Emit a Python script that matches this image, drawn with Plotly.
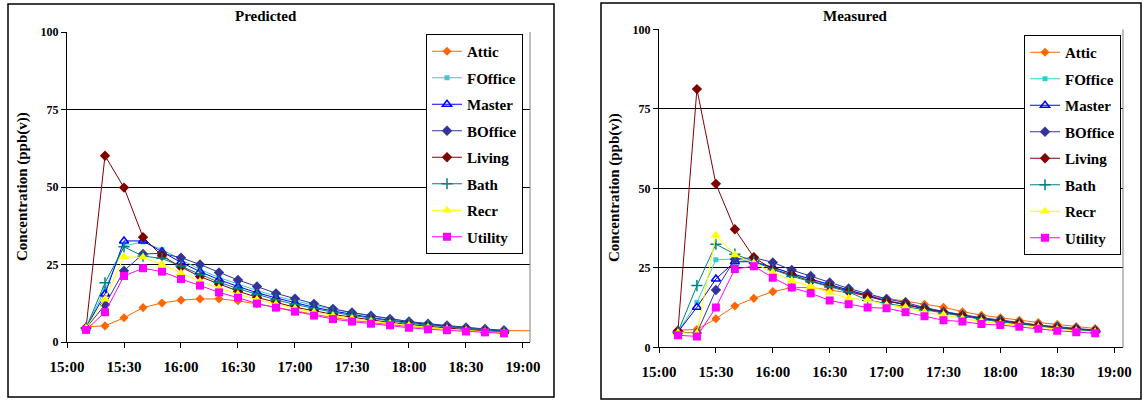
import plotly.graph_objects as go

# ---------------- data ----------------
times = ["15:10", "15:20", "15:30", "15:40", "15:50", "16:00", "16:10", "16:20",
         "16:30", "16:40", "16:50", "17:00", "17:10", "17:20", "17:30", "17:40",
         "17:50", "18:00", "18:10", "18:20", "18:30", "18:40", "18:50", "19:10"]

series_names = ["Attic", "FOffice", "Master", "BOffice", "Living", "Bath", "Recr", "Utility"]

pred_attic = [4.9, 5.2, 7.8, 11.1, 12.6, 13.5, 13.9, 13.9, 13.3, 12.3, 11.2, 10.0, 8.9, 7.9, 7.0, 6.2, 5.6, 5.0, 4.6, 4.2, 3.9, 3.7, 3.6, 3.6]
pred_foffice = [4.5, 17.0, 31.0, 32.3, 29.8, 26.5, 23.4, 20.8, 18.6, 16.6, 14.8, 13.2, 11.8, 10.5, 9.4, 8.3, 7.4, 6.6, 5.9, 5.2, 4.6, 4.1, 3.6]
pred_master = [4.5, 15.5, 32.6, 32.6, 29.1, 25.7, 22.7, 20.1, 17.9, 15.9, 14.2, 12.6, 11.2, 10.0, 8.9, 7.9, 7.0, 6.3, 5.6, 5.0, 4.4, 3.9, 3.5]
pred_boffice = [4.5, 12.0, 23.0, 28.4, 28.6, 27.2, 25.0, 22.4, 20.0, 17.9, 15.7, 14.0, 12.3, 10.7, 9.5, 8.5, 7.4, 6.6, 5.9, 5.3, 4.7, 4.2, 3.8]
pred_living = [4.4, 60.1, 49.8, 33.8, 27.8, 24.2, 21.1, 18.7, 16.4, 14.4, 12.9, 11.2, 10.1, 8.9, 8.0, 7.1, 6.3, 5.6, 5.0, 4.5, 4.0, 3.6, 3.2]
pred_bath = [4.5, 19.1, 30.7, 27.7, 27.0, 24.5, 21.8, 19.3, 17.2, 15.3, 13.6, 12.1, 10.8, 9.6, 8.6, 7.6, 6.8, 6.0, 5.4, 4.8, 4.2, 3.8, 3.4]
pred_recr = [4.5, 13.8, 27.5, 27.3, 25.0, 22.2, 19.5, 17.4, 15.4, 13.7, 12.2, 10.8, 9.6, 8.5, 7.6, 6.7, 6.0, 5.3, 4.7, 4.2, 3.7, 3.3, 3.0]
pred_utility = [3.9, 9.6, 21.3, 23.8, 22.7, 20.3, 18.2, 16.0, 14.3, 12.4, 11.1, 9.8, 8.5, 7.4, 6.6, 5.9, 5.4, 4.6, 4.1, 3.8, 3.4, 3.1, 2.8]

meas_attic = [5.4, 5.6, 9.0, 13.0, 15.4, 17.5, 18.8, 18.8, 18.0, 17.2, 16.3, 15.4, 14.5, 13.5, 12.6, 11.2, 10.1, 9.3, 8.5, 7.8, 7.2, 6.5, 5.9]
meas_foffice = [4.8, 14.1, 27.5, 27.8, 26.9, 25.0, 23.0, 21.2, 19.6, 18.0, 16.4, 14.8, 13.6, 12.4, 11.2, 10.2, 9.2, 8.4, 7.6, 6.8, 6.2, 5.7, 5.2]
meas_master = [4.8, 12.6, 21.5, 26.9, 26.9, 25.2, 23.2, 21.4, 19.8, 18.0, 16.3, 14.6, 13.4, 12.2, 11.0, 10.0, 9.0, 8.2, 7.4, 6.7, 6.1, 5.6, 5.1]
meas_boffice = [4.8, 4.5, 18.0, 27.7, 28.2, 26.7, 24.3, 22.4, 20.4, 18.5, 16.9, 15.2, 14.1, 12.5, 11.2, 10.2, 9.3, 8.6, 7.8, 7.0, 6.5, 6.0, 5.4]
meas_living = [5.2, 81.2, 51.4, 37.1, 28.3, 24.5, 22.8, 20.8, 19.3, 17.6, 16.0, 14.5, 13.5, 12.0, 10.9, 9.9, 9.0, 8.2, 7.5, 6.8, 6.2, 5.7, 5.2]
meas_bath = [4.8, 19.4, 32.4, 29.3, 27.0, 24.5, 22.3, 20.6, 19.0, 17.4, 14.8, 13.8, 12.8, 11.6, 10.6, 9.6, 8.8, 8.0, 7.3, 6.6, 6.0, 5.5, 5.0]
meas_recr = [4.6, 4.4, 35.2, 29.0, 26.5, 23.5, 21.0, 19.1, 17.3, 15.4, 14.9, 13.3, 12.6, 11.0, 10.2, 9.0, 8.2, 7.4, 7.0, 6.3, 5.7, 5.2, 4.8]
meas_utility = [3.8, 3.4, 12.5, 24.6, 25.5, 21.9, 18.8, 17.0, 14.7, 13.5, 12.5, 12.3, 11.0, 9.8, 8.5, 8.1, 7.3, 7.0, 6.5, 5.8, 5.2, 4.7, 4.4]

chart_titles = ["Predicted", "Measured"]
y_title = "Concentration (ppb(v))"
y_ticks = [0, 25, 50, 75, 100]

# ---------------- styling ----------------
W, H = 1143, 402
FONT = "Liberation Serif"
styles = {
    "Attic":   dict(color="#FF6600", symbol="diamond", size=7, fill="#FF6600"),
    "FOffice": dict(color="#33CCCC", symbol="square", size=5, fill="#33CCCC"),
    "Master":  dict(color="#0000FF", symbol="triangle-up-open", size=8, fill="#0000FF"),
    "BOffice": dict(color="#333399", symbol="diamond", size=8, fill="#333399"),
    "Living":  dict(color="#800000", symbol="diamond", size=8, fill="#800000"),
    "Bath":    dict(color="#008080", symbol="cross-thin", size=8, fill="#008080"),
    "Recr":    dict(color="#FFFF00", symbol="triangle-up", size=9, fill="#FFFF00"),
    "Utility": dict(color="#FF00FF", symbol="square", size=8, fill="#FF00FF"),
}

pred = [pred_attic, pred_foffice, pred_master, pred_boffice, pred_living, pred_bath, pred_recr, pred_utility]
meas = [meas_attic, meas_foffice, meas_master, meas_boffice, meas_living, meas_bath, meas_recr, meas_utility]

def px(x):
    return x / W

def py(y):
    return 1 - y / H

fig = go.Figure()
for panel, (data, xa, ya, lg) in enumerate([(pred, "x", "y", "legend"), (meas, "x2", "y2", "legend2")]):
    for name, vals in zip(series_names, data):
        st = styles[name]
        xs = ["2000-01-01 " + t for t in times[:len(vals)]]
        mk = dict(symbol=st["symbol"], size=st["size"], color=st["fill"],
                  line=dict(color=st["color"], width=1.5 if st["symbol"] in ("cross-thin", "triangle-up-open") else 0))
        fig.add_trace(go.Scatter(
            x=xs, y=vals, name=name, mode="lines+markers",
            line=dict(color=st["color"], width=1),
            marker=mk, xaxis=xa, yaxis=ya, legend=lg,
            legendgroup=f"{lg}_{name}",
        ))

tickfont_x = dict(family=FONT, size=15, color="black", weight="bold")
tickfont_y = dict(family=FONT, size=12, color="black", weight="bold")

def xaxis(domain, end, anchor):
    return dict(domain=domain, type="date", range=["2000-01-01 15:00", end], anchor=anchor,
                tickformat="%H:%M", dtick=1800000, tick0="2000-01-01 15:00",
                showgrid=False, showline=True, linecolor="black", linewidth=1,
                ticks="outside", ticklen=5, tickcolor="black", tickfont=tickfont_x,
                ticklabelstandoff=6,
                zeroline=False, fixedrange=True, automargin=False)

def yaxis(domain, anchor):
    return dict(domain=domain, range=[0, 100], tickvals=y_ticks, anchor=anchor,
                showgrid=True, gridcolor="black", gridwidth=1,
                showline=True, linecolor="black", linewidth=1,
                ticks="outside", ticklen=5, tickcolor="black", tickfont=tickfont_y,
                zeroline=False, fixedrange=True, automargin=False)

legend_common = dict(bgcolor="white", bordercolor="black", borderwidth=1,
                     font=dict(family=FONT, size=15, color="black", weight="bold"),
                     xanchor="left", yanchor="top", traceorder="grouped",
                     tracegroupgap=4, itemclick=False, itemdoubleclick=False)

shapes = []
# outer chart frames
shapes.append(dict(type="rect", xref="paper", yref="paper", x0=px(8), x1=px(554), y0=py(397), y1=py(4),
                   line=dict(color="black", width=1.5)))
shapes.append(dict(type="rect", xref="paper", yref="paper", x0=px(601), x1=px(1141), y0=py(399), y1=py(3),
                   line=dict(color="black", width=1.5)))
# plot-area right borders (gray)
shapes.append(dict(type="line", xref="paper", yref="paper", x0=px(530), x1=px(530), y0=py(342), y1=py(32),
                   line=dict(color="#808080", width=1)))
shapes.append(dict(type="line", xref="paper", yref="paper", x0=px(1123), x1=px(1123), y0=py(347.3), y1=py(29.3),
                   line=dict(color="#808080", width=1)))

ann_font_title = dict(family=FONT, size=15, color="black", weight="bold")
ann_font_y = dict(family=FONT, size=15, color="black", weight="bold")
annotations = [
    dict(text=chart_titles[0], x=px(266), y=py(16), xref="paper", yref="paper", showarrow=False,
         xanchor="center", yanchor="middle", font=ann_font_title),
    dict(text=chart_titles[1], x=px(855), y=py(16), xref="paper", yref="paper", showarrow=False,
         xanchor="center", yanchor="middle", font=ann_font_title),
    dict(text=y_title, x=px(22), y=py(187), xref="paper", yref="paper", showarrow=False, textangle=-90,
         xanchor="center", yanchor="middle", font=ann_font_y),
    dict(text=y_title, x=px(614), y=py(188), xref="paper", yref="paper", showarrow=False, textangle=-90,
         xanchor="center", yanchor="middle", font=ann_font_y),
]

fig.update_layout(
    width=W, height=H,
    margin=dict(l=0, r=0, t=0, b=0, autoexpand=False),
    paper_bgcolor="white", plot_bgcolor="white",
    font=dict(family=FONT, color="black"),
    showlegend=True,
    xaxis=xaxis([px(67), px(530)], "2000-01-01 19:03:42", "y"),
    yaxis=yaxis([py(342), py(32)], "x"),
    xaxis2=xaxis([px(659), px(1123)], "2000-01-01 19:04:40", "y2"),
    yaxis2=yaxis([py(347.3), py(29.3)], "x2"),
    legend=dict(x=px(426), y=py(34), **legend_common),
    legend2=dict(x=px(1024), y=py(35), **legend_common),
    shapes=shapes,
    annotations=annotations,
    hovermode=False,
)

fig.write_html("out.html", config={"displayModeBar": False},
               post_script="document.body.style.margin='0';")
